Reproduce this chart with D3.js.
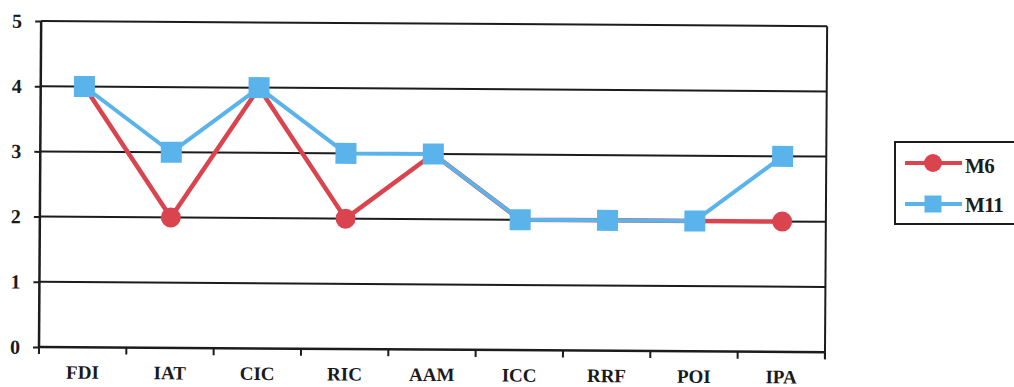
<!DOCTYPE html>
<html>
<head>
<meta charset="utf-8">
<script src="https://cdn.jsdelivr.net/npm/d3@7/dist/d3.min.js"></script>
<style>
  html, body { margin: 0; padding: 0; background: #fff; }
  svg { display: block; }
  .axis text { font-family: "Liberation Serif", "Times New Roman", serif; font-weight: bold; fill: #1a1a1a; }
</style>
</head>
<body>
<svg id="chart" width="1014" height="387"></svg>
<script>
// Categories and scores for the two series
const categories = ["FDI", "IAT", "CIC", "RIC", "AAM", "ICC", "RRF", "POI", "IPA"];
const m6Values  = [4, 2, 4, 2, 3, 2, 2, 2, 2];
const m11Values = [4, 3, 4, 3, 3, 2, 2, 2, 3];
const yTickValues = [0, 1, 2, 3, 4, 5];
const seriesNames = ["M6", "M11"];

const RED = "#d9444e";
const BLUE = "#5ab3ea";
const INK = "#1c1c1c";

const svg = d3.select("#chart");

const plotLeft = 39, plotRight = 825, plotTop = 21, plotBottom = 347;

const x = d3.scaleBand().domain(categories).range([plotLeft, plotRight]);
const y = d3.scaleLinear().domain([0, 5]).range([plotBottom, plotTop]);

// plot area is very slightly tilted, as on the printed page
const plot = svg.append("g").attr("transform", `rotate(0.38, ${plotLeft}, ${plotBottom})`);

// horizontal gridlines (the top one closes the frame)
plot.append("g")
  .selectAll("line")
  .data(yTickValues.filter(v => v > 0))
  .join("line")
  .attr("x1", plotLeft).attr("x2", plotRight)
  .attr("y1", d => y(d)).attr("y2", d => y(d))
  .attr("stroke", INK).attr("stroke-width", 2);

// right frame edge
plot.append("line")
  .attr("x1", plotRight).attr("x2", plotRight)
  .attr("y1", y(5)).attr("y2", y(0) + 7)
  .attr("stroke", INK).attr("stroke-width", 2);

// left axis
const yAxis = plot.append("g")
  .attr("class", "axis")
  .attr("transform", `translate(${plotLeft},0)`)
  .call(d3.axisLeft(y).tickValues(yTickValues).tickFormat(d3.format("d")).tickSize(6).tickPadding(13));
yAxis.select(".domain").attr("stroke", INK).attr("stroke-width", 2.5)
  .attr("d", `M0,${y(5)}V${y(0)}`);
yAxis.selectAll(".tick line").attr("stroke", INK).attr("stroke-width", 2);
yAxis.selectAll(".tick text").attr("font-size", 20);

// bottom axis: labels centred in each band
const xAxis = plot.append("g")
  .attr("class", "axis")
  .attr("transform", `translate(0,${plotBottom})`)
  .call(d3.axisBottom(x).tickSize(0).tickPadding(18));
xAxis.select(".domain").attr("stroke", INK).attr("stroke-width", 2.5)
  .attr("d", `M${plotLeft},0H${plotRight}`);
xAxis.selectAll(".tick text").attr("font-size", 19);

// tick marks sit on the band boundaries
const boundaries = categories.map(c => x(c)).concat([plotRight]);
xAxis.append("g")
  .selectAll("line")
  .data(boundaries)
  .join("line")
  .attr("x1", d => d).attr("x2", d => d)
  .attr("y1", 0).attr("y2", 7)
  .attr("stroke", INK).attr("stroke-width", 2);

const cx = c => x(c) + x.bandwidth() / 2;

const line = d3.line()
  .x((d, i) => cx(categories[i]))
  .y(d => y(d));

// M6 series (red, circles)
plot.append("path")
  .datum(m6Values)
  .attr("d", line)
  .attr("fill", "none")
  .attr("stroke", RED).attr("stroke-width", 4.5)
  .attr("stroke-linejoin", "round");
plot.append("g")
  .selectAll("circle")
  .data(m6Values)
  .join("circle")
  .attr("cx", (d, i) => cx(categories[i]))
  .attr("cy", d => y(d))
  .attr("r", 10)
  .attr("fill", RED);

// M11 series (blue, squares)
const sq = 21;
plot.append("path")
  .datum(m11Values)
  .attr("d", line)
  .attr("fill", "none")
  .attr("stroke", BLUE).attr("stroke-width", 4)
  .attr("stroke-linejoin", "round");
plot.append("g")
  .selectAll("rect")
  .data(m11Values)
  .join("rect")
  .attr("x", (d, i) => cx(categories[i]) - sq / 2)
  .attr("y", d => y(d) - sq / 2)
  .attr("width", sq).attr("height", sq)
  .attr("fill", BLUE);

// legend
const legend = svg.append("g");
legend.append("rect")
  .attr("x", 895).attr("y", 142)
  .attr("width", 140).attr("height", 82)
  .attr("fill", "none").attr("stroke", INK).attr("stroke-width", 2);

const legendRows = [
  { name: seriesNames[0], color: RED, y: 163, base: 173, shape: "circle" },
  { name: seriesNames[1], color: BLUE, y: 204, base: 212, shape: "square" }
];
legendRows.forEach(r => {
  legend.append("line")
    .attr("x1", 905).attr("x2", 962)
    .attr("y1", r.y).attr("y2", r.y)
    .attr("stroke", r.color).attr("stroke-width", 4);
  if (r.shape === "circle") {
    legend.append("circle").attr("cx", 933).attr("cy", r.y).attr("r", 9).attr("fill", r.color);
  } else {
    legend.append("rect").attr("x", 933 - 8.5).attr("y", r.y - 8.5)
      .attr("width", 17).attr("height", 17).attr("fill", r.color);
  }
  legend.append("text")
    .attr("x", 965).attr("y", r.base)
    .attr("font-family", "'Liberation Serif', 'Times New Roman', serif")
    .attr("font-weight", "bold")
    .attr("font-size", 21)
    .attr("letter-spacing", -0.5)
    .attr("fill", INK)
    .text(r.name);
});
</script>
</body>
</html>
